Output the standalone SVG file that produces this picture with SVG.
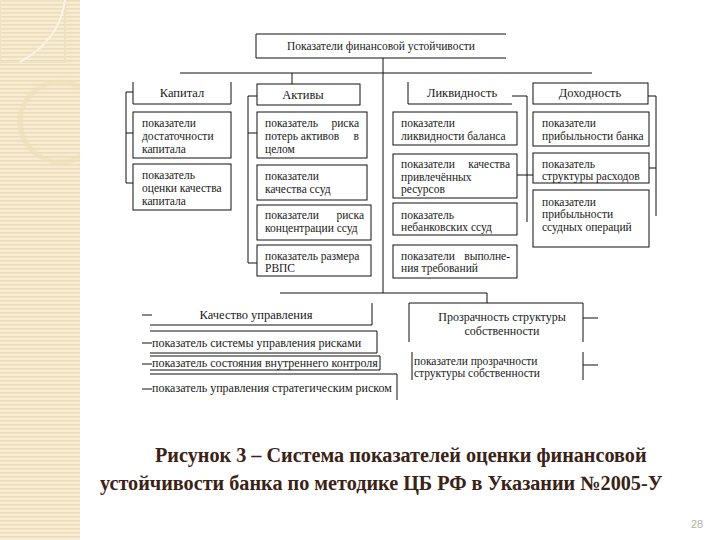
<svg xmlns="http://www.w3.org/2000/svg" width="720" height="540" viewBox="0 0 720 540">
<defs>
<pattern id="stripes" width="6" height="4" patternUnits="userSpaceOnUse">
<rect width="6" height="4" fill="#f6ebd3"/>
<rect y="0" width="6" height="1.5" fill="#eedcb6"/>
</pattern>
<clipPath id="strip"><rect x="0" y="0" width="80" height="540"/></clipPath>
<style>
.ln{fill:none;stroke:#111;stroke-width:1}
.t{font-family:"Liberation Serif","Times New Roman",serif;font-size:11.5px;fill:#1a1a1a}
.k{font-family:"Liberation Serif","Times New Roman",serif;font-size:12px;fill:#1a1a1a}
.h{font-family:"Liberation Serif","Times New Roman",serif;font-size:12.5px;fill:#1a1a1a}
.c{text-anchor:middle}
.e{text-anchor:end}
.cap{font-family:"Liberation Serif","Times New Roman",serif;font-size:20.2px;font-weight:bold;fill:#3b2216}
</style>
</defs>
<rect width="720" height="540" fill="#ffffff"/>
<g id="decor" clip-path="url(#strip)">
<rect x="0" y="0" width="80" height="540" fill="url(#stripes)"/>
<rect x="0" y="0" width="65" height="62" fill="none" stroke="#efe2c4" stroke-width="2"/>
<path d="M20,62 Q60,40 65,0" fill="none" stroke="#fbf5e6" stroke-width="2"/>
<circle cx="60" cy="122" r="40" fill="none" stroke="#eee0b8" stroke-width="5" opacity="0.6"/>
</g>
<g id="connectors" class="ln">
<path d="M383,58 V293"/>
<path d="M180,73 H592"/>
<path d="M292,73 V84"/>
<path d="M280,293 H487 V303"/>
<path d="M133,92 H126 V183 H133 M126,133 H133"/>
<path d="M257,96 H248 V263 H257 M248,133 H257"/>
<path d="M512,96 H527 V222 M517,175 H533"/>
<path d="M648,96 H656 V216 M649,168 H656"/>
<path d="M583,318 H598 M583,365 H598"/>
<path d="M142,315 H152 M142,343 H152 M142,364 H152 M142,389 H152"/>
</g>
<g id="n-top"><path class="ln" d="M506,34 H256 V58 H506"/><text class="t c" x="381" y="50">Показатели финансовой устойчивости</text></g>
<g id="n-cap"><path class="ln" d="M133,82 V104 H231 V82"/><text class="h c" x="182" y="97">Капитал</text></g>
<g id="n-akt"><rect class="ln" x="257" y="84" width="103" height="21"/><text class="h c" x="303" y="99">Активы</text></g>
<g id="n-liq"><path class="ln" d="M408,82 V104 H512"/><text class="h c" x="462" y="97">Ликвидность</text></g>
<g id="n-doh"><rect class="ln" x="533" y="83" width="115" height="21"/><text class="h c" x="590" y="97">Доходность</text></g>

<g id="n-cap1"><rect class="ln" x="133" y="112" width="98" height="46"/><text class="t" x="142" y="127">показатели</text><text class="t" x="142" y="140">достаточности</text><text class="t" x="142" y="153">капитала</text></g>
<g id="n-cap2"><rect class="ln" x="133" y="164" width="98" height="46"/><text class="t" x="142" y="179">показатель</text><text class="t" x="142" y="192">оценки качества</text><text class="t" x="142" y="205">капитала</text></g>

<g id="n-akt1"><rect class="ln" x="257" y="112" width="110" height="46"/><text class="t" x="265" y="127">показатель</text><text class="t e" x="359" y="127">риска</text><text class="t" x="265" y="140">потерь</text><text class="t c" x="320" y="140">активов</text><text class="t e" x="359" y="140">в</text><text class="t" x="265" y="153">целом</text></g>
<g id="n-akt2"><rect class="ln" x="257" y="165" width="110" height="35"/><text class="t" x="265" y="180">показатели</text><text class="t" x="265" y="193">качества ссуд</text></g>
<g id="n-akt3"><rect class="ln" x="257" y="205" width="114" height="35"/><text class="t" x="265" y="219">показатели</text><text class="t e" x="364" y="219">риска</text><text class="t" x="265" y="232">концентрации ссуд</text></g>
<g id="n-akt4"><rect class="ln" x="257" y="245" width="114" height="31"/><text class="t" x="265" y="260">показатель размера</text><text class="t" x="265" y="272">РВПС</text></g>

<g id="n-liq1"><rect class="ln" x="393" y="112" width="124" height="33"/><text class="t" x="401" y="127">показатели</text><text class="t" x="401" y="140">ликвидности баланса</text></g>
<g id="n-liq2"><rect class="ln" x="393" y="154" width="124" height="44"/><text class="t" x="401" y="168">показатели</text><text class="t e" x="510" y="168">качества</text><text class="t" x="401" y="181">привлечённых</text><text class="t" x="401" y="193">ресурсов</text></g>
<g id="n-liq3"><rect class="ln" x="393" y="203" width="124" height="32"/><text class="t" x="401" y="219">показатель</text><text class="t" x="401" y="231">небанковских ссуд</text></g>
<g id="n-liq4"><rect class="ln" x="393" y="245" width="124" height="33"/><text class="t" x="401" y="260">показатели</text><text class="t e" x="510" y="260">выполне-</text><text class="t" x="401" y="272">ния требований</text></g>

<g id="n-doh1"><rect class="ln" x="533" y="112" width="116" height="34"/><text class="t" x="542" y="127">показатели</text><text class="t" x="542" y="140">прибыльности банка</text></g>
<g id="n-doh2"><rect class="ln" x="533" y="153" width="116" height="30"/><text class="t" x="542" y="168">показатель</text><text class="t" x="542" y="180">структуры расходов</text></g>
<g id="n-doh3"><rect class="ln" x="533" y="190" width="116" height="57"/><text class="t" x="542" y="206">показатели</text><text class="t" x="542" y="218">прибыльности</text><text class="t" x="542" y="231">ссудных операций</text></g>

<g id="n-kach"><path class="ln" d="M150,325 H372 V303"/><text class="h c" x="256" y="319">Качество управления</text></g>
<g id="n-kach1"><path class="ln" d="M150,331 H377 V353 H150"/><text class="k" x="152" y="347">показатель системы управления рисками</text></g>
<g id="n-kach2"><path class="ln" d="M150,356 H380 V370 H150"/><text class="k" x="152" y="367">показатель состояния внутреннего контроля</text></g>
<g id="n-kach3"><path class="ln" d="M150,374 H397 V400"/><text class="k" x="152" y="392">показатель управления стратегическим риском</text></g>

<g id="n-proz"><path class="ln" d="M409,342 V303 H583 V342"/><text class="h c" x="502" y="321" style="font-size:12px">Прозрачность структуры</text><text class="h c" x="502" y="335" style="font-size:12px">собственности</text></g>
<g id="n-proz1"><path class="ln" d="M412,352 V380 M583,352 V380"/><text class="t" x="414" y="365">показатели прозрачности</text><text class="t" x="414" y="377">структуры собственности</text></g>

<g id="caption">
<text class="cap" x="155" y="462">Рисунок 3 – Система показателей оценки финансовой</text>
<text class="cap" x="100" y="490">устойчивости банка по методике ЦБ РФ в Указании №2005-У</text>
</g>
<text x="697" y="528" style="font-family:'Liberation Sans',Arial,sans-serif;font-size:11px;fill:#b8b0a0" text-anchor="middle">28</text>
</svg>
